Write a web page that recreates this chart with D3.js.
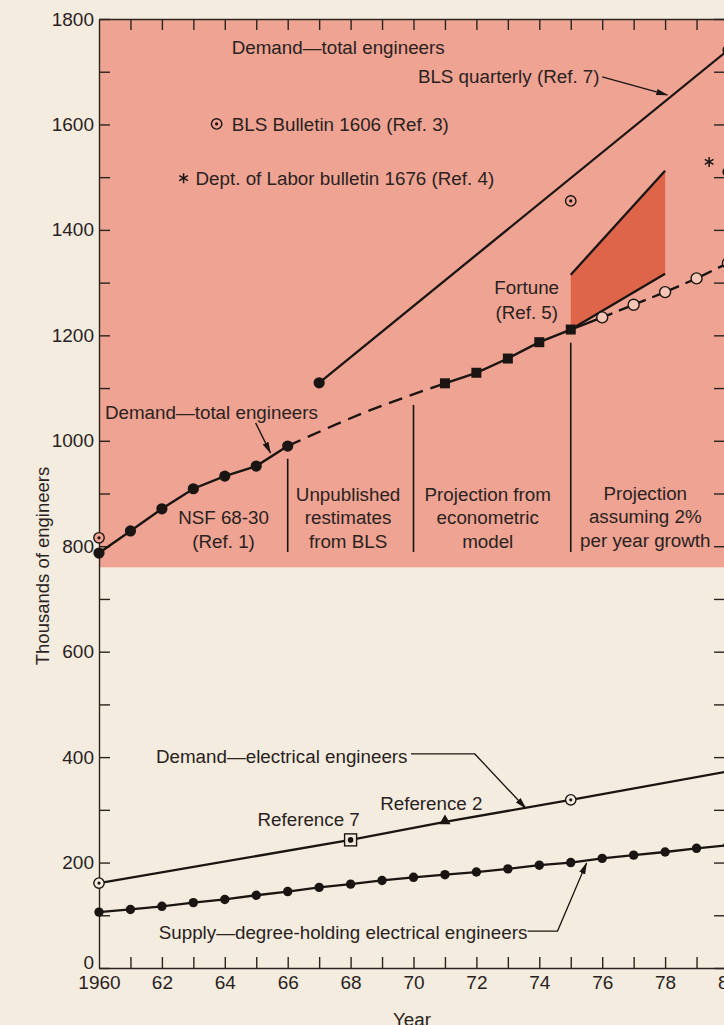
<!DOCTYPE html>
<html>
<head>
<meta charset="utf-8">
<title>Engineers: demand and supply</title>
<style>
  body { margin: 0; background: #f4ecde; }
  svg { display: block; }
  text { font-family: "Liberation Sans", Arial, sans-serif; fill: #2a221e; }
  .axis path, .axis line { stroke: #2a2420; stroke-width: 1.4px; }
  .axis text { font-size: 19px; fill: #2a221e; }
  .lbl { font-size: 18.8px; }
  .ink { stroke: #1a1512; fill: none; }
</style>
<script src="https://d3js.org/d3.v7.min.js"></script>
</head>
<body>
<div id="chart"></div>
<script>
const width = 724, height = 1025;

// total engineers, NSF 68-30
const nsfYears = [1960, 1961, 1962, 1963, 1964, 1965, 1966];
const nsfValues = [787, 829, 871, 909, 933, 952, 990];
// econometric model projection
const econYears = [1971, 1972, 1973, 1974, 1975];
const econValues = [1109, 1129, 1156, 1187, 1211];
// 2% per year growth
const growthYears = [1976, 1977, 1978, 1979, 1980];
const growthValues = [1234, 1258, 1282, 1308, 1337];
// BLS quarterly (Ref. 7)
const blsQYears = [1967, 1980];
const blsQValues = [1110, 1741];
// BLS Bulletin 1606 (Ref. 3)
const bul1606Years = [1960, 1975];
const bul1606Values = [816, 1455];
// Dept. of Labor bulletin 1676 (Ref. 4)
const dol1676Years = [1979.4];
const dol1676Values = [1529];
const edgeDotYears = [1980];
const edgeDotValues = [1510];
// Fortune (Ref. 5) band
const fortuneYears = [1975, 1978];
const fortuneLow = [1211, 1317];
const fortuneHigh = [1315, 1512];
// section dividers
const dividerYears = [1966, 1970, 1975];
const dividerTops = [966, 1068, 1186];
const dividerBase = 789;
const pinkFloor = 760;

// electrical engineers
const eeDemandYears = [1960, 1968, 1971, 1975, 1980];
const eeDemandValues = [161, 243, 277, 319, 373];
const eeDemandSource = ["bulletin", "ref7", "ref2", "bulletin", "none"];
const supplyYears = d3.range(1960, 1981);
const supplyValues = [106, 111, 117, 124, 130, 138, 145, 153, 159, 166, 172,
                      177, 182, 188, 195, 200, 208, 214, 220, 227, 233];

const yTicks = d3.range(0, 1801, 100);
const yLabels = d3.range(0, 1801, 200);
const xTicks = d3.range(1960, 1981);

const x = d3.scaleLinear().domain([1960, 1980]).range([99, 728]);
const y = d3.scaleLinear().domain([0, 1800]).range([968, 19]);

const svg = d3.select("#chart").append("svg")
    .attr("width", width)
    .attr("height", height);

const defs = svg.append("defs");
defs.append("marker")
    .attr("id", "arrow")
    .attr("markerUnits", "userSpaceOnUse")
    .attr("viewBox", "0 0 12 8")
    .attr("refX", 11).attr("refY", 4)
    .attr("markerWidth", 12).attr("markerHeight", 8)
    .attr("orient", "auto")
    .append("path")
    .attr("d", "M0,0.8 L12,4 L0,7.2 Z")
    .attr("fill", "#1a1512");

// pink band
svg.append("rect")
    .attr("x", x(1960))
    .attr("y", y(1800))
    .attr("width", width - x(1960))
    .attr("height", y(pinkFloor) - y(1800))
    .attr("fill", "#eea393");

// axes
svg.append("g").attr("class", "axis")
    .attr("transform", `translate(${x(1960)},0)`)
    .call(d3.axisLeft(y).tickValues(yTicks).tickSizeInner(-11).tickSizeOuter(0).tickPadding(5)
        .tickFormat(d => yLabels.includes(d) ? d : ""))
    .selectAll(".tick text").filter(d => d === 0).attr("dy", "0.05em");

svg.append("g").attr("class", "axis")
    .attr("transform", `translate(${x(1980)},0)`)
    .call(d3.axisRight(y).tickValues(yTicks).tickSizeInner(-14).tickSizeOuter(0).tickFormat(""));

svg.append("g").attr("class", "axis")
    .attr("transform", `translate(0,${y(0)})`)
    .call(d3.axisBottom(x).tickValues(xTicks).tickSizeInner(-11).tickSizeOuter(0).tickPadding(8)
        .tickFormat(d => d === 1960 ? "1960" : (d % 2 === 0 ? String(d).slice(2) : "")));

svg.append("g").attr("class", "axis")
    .attr("transform", `translate(0,${y(1800)})`)
    .call(d3.axisTop(x).tickValues(xTicks).tickSizeInner(-11).tickSizeOuter(0).tickFormat(""));

svg.selectAll(".axis .tick line").filter(d => d === 1960).remove();

svg.append("text")
    .attr("class", "lbl")
    .attr("transform", "translate(49,566) rotate(-90)")
    .attr("text-anchor", "middle")
    .style("font-size", "18.5px")
    .text("Thousands of engineers");

svg.append("text")
    .attr("class", "lbl")
    .attr("x", 412).attr("y", 1026)
    .attr("text-anchor", "middle")
    .text("Year");

const line = d3.line().x(d => x(d[0])).y(d => y(d[1]));
const zip = (a, b) => a.map((d, i) => [d, b[i]]);

// Fortune band
svg.append("path")
    .attr("d", line(zip(fortuneYears, fortuneHigh).concat(zip(fortuneYears, fortuneLow).reverse())) + "Z")
    .attr("fill", "#de644a");
svg.append("path").attr("class", "ink").attr("stroke-width", 2.3)
    .attr("d", line(zip(fortuneYears, fortuneHigh)));
svg.append("path").attr("class", "ink").attr("stroke-width", 2.3)
    .attr("d", line(zip(fortuneYears, fortuneLow)));

// dividers
svg.selectAll(".divider")
    .data(dividerYears)
    .enter().append("line")
    .attr("class", "ink")
    .attr("stroke-width", 1.6)
    .attr("x1", d => x(d)).attr("x2", d => x(d))
    .attr("y1", (d, i) => y(dividerTops[i]))
    .attr("y2", y(dividerBase));

// total engineers lines
const nsf = zip(nsfYears, nsfValues);
const econ = zip(econYears, econValues);
const growth = zip(growthYears, growthValues);

svg.append("path").attr("class", "ink").attr("stroke-width", 2.4).attr("d", line(nsf));
svg.append("path").attr("class", "ink").attr("stroke-width", 2.4)
    .attr("stroke-dasharray", "14 8")
    .attr("d", d3.line().curve(d3.curveMonotoneX).x(d => x(d[0])).y(d => y(d[1]))(
        [nsf[nsf.length - 1], [1968.5, 1055], econ[0]]));
svg.append("path").attr("class", "ink").attr("stroke-width", 2.4).attr("d", line(econ));
svg.append("path").attr("class", "ink").attr("stroke-width", 2.4)
    .attr("d", line([econ[econ.length - 1], growth[0]]));
svg.append("path").attr("class", "ink").attr("stroke-width", 2.4)
    .attr("stroke-dasharray", "11 7")
    .attr("d", line(growth));

const blsQ = zip(blsQYears, blsQValues);
svg.append("path").attr("class", "ink").attr("stroke-width", 2.3).attr("d", line(blsQ));

svg.selectAll(".nsf").data(nsf).enter().append("circle")
    .attr("cx", d => x(d[0])).attr("cy", d => y(d[1])).attr("r", 5.6)
    .attr("fill", "#1a1512");
svg.selectAll(".bq").data(blsQ.concat(zip(edgeDotYears, edgeDotValues))).enter().append("circle")
    .attr("cx", d => x(d[0])).attr("cy", d => y(d[1])).attr("r", 5.6)
    .attr("fill", "#1a1512");
svg.selectAll(".econ").data(econ).enter().append("rect")
    .attr("x", d => x(d[0]) - 5).attr("y", d => y(d[1]) - 5)
    .attr("width", 10).attr("height", 10)
    .attr("fill", "#1a1512");
svg.selectAll(".growth").data(growth).enter().append("circle")
    .attr("cx", d => x(d[0])).attr("cy", d => y(d[1])).attr("r", 5.5)
    .attr("fill", "#f6c6b6").attr("stroke", "#1a1512").attr("stroke-width", 1.4);

function circledDot(g, cx, cy, bg) {
  g.append("circle").attr("cx", cx).attr("cy", cy).attr("r", 5.2)
      .attr("fill", bg).attr("stroke", "#1a1512").attr("stroke-width", 1.4);
  g.append("circle").attr("cx", cx).attr("cy", cy).attr("r", 1.6).attr("fill", "#1a1512");
}
function star(g, cx, cy) {
  g.append("path")
      .attr("transform", `translate(${cx},${cy})`)
      .attr("d", d3.symbol(d3.symbolAsterisk, 70)())
      .attr("stroke", "#1a1512").attr("stroke-width", 1.5).attr("fill", "none");
}

zip(bul1606Years, bul1606Values).forEach(d => circledDot(svg, x(d[0]), y(d[1]), "#eea393"));
zip(dol1676Years, dol1676Values).forEach(d => star(svg, x(d[0]), y(d[1])));

// electrical engineers
const eeDemand = zip(eeDemandYears, eeDemandValues);
const supply = zip(supplyYears, supplyValues);
svg.append("path").attr("class", "ink").attr("stroke-width", 2.3).attr("d", line(eeDemand));
svg.append("path").attr("class", "ink").attr("stroke-width", 2.3).attr("d", line(supply));
svg.selectAll(".sup").data(supply).enter().append("circle")
    .attr("cx", d => x(d[0])).attr("cy", d => y(d[1])).attr("r", 4.7)
    .attr("fill", "#1a1512");

eeDemand.forEach((d, i) => {
  const cx = x(d[0]), cy = y(d[1]);
  const src = eeDemandSource[i];
  if (src === "bulletin") circledDot(svg, cx, cy, "#f4ecde");
  if (src === "ref7") {
    svg.append("rect").attr("x", cx - 6).attr("y", cy - 6).attr("width", 12).attr("height", 12)
        .attr("fill", "#f4ecde").attr("stroke", "#1a1512").attr("stroke-width", 1.4);
    svg.append("circle").attr("cx", cx).attr("cy", cy).attr("r", 2.8).attr("fill", "#1a1512");
  }
  if (src === "ref2") {
    svg.append("path").attr("transform", `translate(${cx},${cy - 1})`)
        .attr("d", d3.symbol(d3.symbolTriangle, 55)()).attr("fill", "#1a1512");
  }
});

// annotations (positions in data units)
const notes = [
  { t: "Demand\u2014total engineers", at: [1964.22, 1734] },
  { t: "BLS quarterly (Ref. 7)", at: [1970.14, 1679] },
  { t: "BLS Bulletin 1606 (Ref. 3)", at: [1964.22, 1588] },
  { t: "Dept. of Labor bulletin 1676 (Ref. 4)", at: [1963.07, 1485] },
  { t: "Fortune", at: [1973.6, 1278], anchor: "middle" },
  { t: "(Ref. 5)", at: [1973.6, 1231], anchor: "middle" },
  { t: "Demand\u2014total engineers", at: [1960.19, 1041] },
  { t: "NSF 68-30", at: [1963.96, 842], anchor: "middle" },
  { t: "(Ref. 1)", at: [1963.96, 797], anchor: "middle" },
  { t: "Unpublished", at: [1967.92, 886], anchor: "middle" },
  { t: "restimates", at: [1967.92, 842], anchor: "middle" },
  { t: "from BLS", at: [1967.92, 797], anchor: "middle" },
  { t: "Projection from", at: [1972.36, 886], anchor: "middle" },
  { t: "econometric", at: [1972.36, 842], anchor: "middle" },
  { t: "model", at: [1972.36, 797], anchor: "middle" },
  { t: "Projection", at: [1977.37, 888], anchor: "middle" },
  { t: "assuming 2%", at: [1977.37, 844], anchor: "middle" },
  { t: "per year growth", at: [1977.37, 799], anchor: "middle" },
  { t: "Demand\u2014electrical engineers", at: [1961.81, 389] },
  { t: "Reference 7", at: [1965.04, 269] },
  { t: "Reference 2", at: [1968.94, 300] },
  { t: "Supply\u2014degree-holding electrical engineers", at: [1961.9, 55] }
];
svg.selectAll(".note").data(notes).enter().append("text")
    .attr("class", "lbl")
    .attr("x", d => x(d.at[0])).attr("y", d => y(d.at[1]))
    .attr("text-anchor", d => d.anchor || "start")
    .text(d => d.t);

circledDot(svg, x(1963.74), y(1601), "#eea393");
star(svg, x(1962.69), y(1498));

const leaders = [
  [[1976.0, 1690], [1978.07, 1656]],
  [[1964.98, 1034], [1965.45, 977]],
  [[1969.92, 406], [1971.95, 406], [1973.57, 303]],
  [[1973.63, 70], [1974.58, 70], [1975.5, 199]]
];
svg.selectAll(".leader").data(leaders).enter().append("path")
    .attr("class", "ink")
    .attr("stroke-width", 1.3)
    .attr("d", line)
    .attr("marker-end", "url(#arrow)");
</script>
</body>
</html>
